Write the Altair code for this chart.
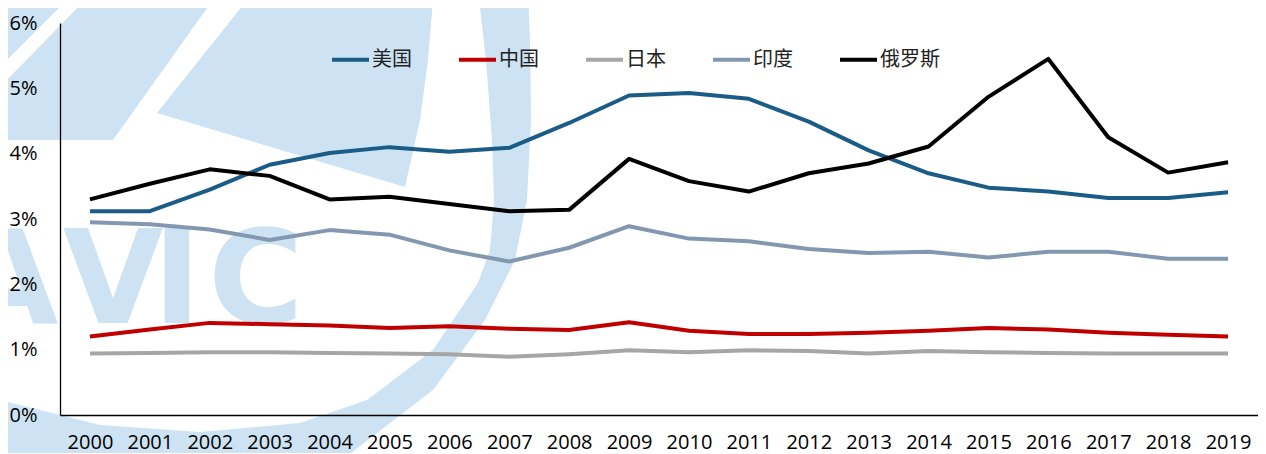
import altair as alt
import pandas as pd

# ---------------- data ----------------
years = [str(y) for y in range(2000, 2020)]
countries = ["美国", "中国", "日本", "印度", "俄罗斯"]
colors = ["#1B5C86", "#C00000", "#A6A6A6", "#8497B0", "#000000"]

usa = [3.12, 3.12, 3.45, 3.83, 4.01, 4.10, 4.03, 4.09, 4.47, 4.89,
       4.93, 4.84, 4.49, 4.05, 3.70, 3.48, 3.42, 3.32, 3.32, 3.41]
china = [1.20, 1.31, 1.41, 1.39, 1.37, 1.33, 1.36, 1.32, 1.30, 1.42,
         1.29, 1.24, 1.24, 1.26, 1.29, 1.33, 1.31, 1.26, 1.23, 1.20]
japan = [0.94, 0.95, 0.96, 0.96, 0.95, 0.94, 0.93, 0.89, 0.93, 0.99,
         0.96, 0.99, 0.98, 0.94, 0.98, 0.96, 0.95, 0.94, 0.94, 0.94]
india = [2.95, 2.92, 2.84, 2.68, 2.83, 2.76, 2.52, 2.35, 2.56, 2.89,
         2.70, 2.66, 2.54, 2.48, 2.50, 2.41, 2.50, 2.50, 2.39, 2.39]
russia = [3.30, 3.54, 3.76, 3.66, 3.30, 3.34, 3.23, 3.12, 3.14, 3.92,
          3.58, 3.42, 3.70, 3.85, 4.11, 4.87, 5.45, 4.25, 3.71, 3.87]
y_ticks = [0, 1, 2, 3, 4, 5, 6]

rows = []
for name, vals in zip(countries, [usa, china, japan, india, russia]):
    for yr, v in zip(years, vals):
        rows.append({"year": yr, "country": name, "value": v})
df = pd.DataFrame(rows)

# ---------------- decorative watermark (AVIC logo, approximated) ----------------
wm_color = "#CDE3F3"
wm_paths = [
    "M-10,-10 L77,-10 L-10,77 Z",
    "M95,-10 L220,-10 L113,140 L-10,140 L-10,97 Z",
    "M255,-10 L437,-10 L433,0 L428,60 L420,120 L405,187 L157,113 Z",
    "M478,-10 L486,60 L492,140 L494,200 L490,250 L478,283 L433,350 L367,400 "
    "L300,423 L200,432 L100,425 L0,400 L-10,396 L-10,470 L329,470 L433,390 "
    "L485,320 L515,260 L527,200 L531,120 L530,40 L528,-10 Z",
]
wm_df = pd.DataFrame({"path": wm_paths})
wm_letters = ["A", "V", "I", "C"]
wm_letter_x = [8, 113, 177, 256]  # page pixels, letter centres

W, H = 1198, 392
OX, OY = 60, 23  # plot origin in page coordinates

shapes = alt.Chart(wm_df).mark_point(
    filled=True, opacity=1, strokeWidth=0, color=wm_color
).encode(
    x=alt.value(-OX),
    y=alt.value(-OY),
    shape=alt.Shape("path:N", scale=None, legend=None),
    size=alt.value(4),
)

wm_text = alt.Chart(
    pd.DataFrame({"t": wm_letters, "px": [v - OX for v in wm_letter_x]})
).mark_text(
    font="DejaVu Sans", fontWeight="bold", fontSize=130, align="center",
    baseline="alphabetic", color=wm_color, y=323 - OY
).encode(
    text="t:N",
    x=alt.X("px:Q", scale=None),
)

axis_common = dict(
    title=None, ticks=False, tickSize=0, labelFontSize=20,
    labelFont="Open Sans", labelColor="#000000",
    domainColor="#000000", domainWidth=1.3, zindex=1,
)

lines = alt.Chart(df).mark_line(strokeWidth=4, strokeJoin="round").encode(
    x=alt.X(
        "year:O",
        sort=years,
        axis=alt.Axis(labelAngle=0, labelPadding=17, **axis_common),
    ),
    y=alt.Y(
        "value:Q",
        scale=alt.Scale(domain=[0, 6], nice=False),
        axis=alt.Axis(
            values=y_ticks, labelExpr="datum.value + '%'",
            grid=False, labelPadding=23, **axis_common,
        ),
    ),
    color=alt.Color(
        "country:N",
        sort=countries,
        scale=alt.Scale(domain=countries, range=colors),
        legend=alt.Legend(
            title=None, orient="none", direction="horizontal",
            legendX=270, legendY=16,
            symbolType="stroke", symbolStrokeWidth=4, symbolSize=1369,
            labelFontSize=20, labelFont="Noto Sans CJK SC", labelColor="#222222",
            labelOffset=1, columnPadding=39,
        ),
    ),
    order=alt.Order("year:O"),
)

chart = alt.layer(shapes, wm_text, lines).properties(
    width=W, height=H,
    autosize=alt.AutoSizeParams(type="none"),
    padding={"left": 52, "top": 15, "right": 0, "bottom": 38},
    background="#FFFFFF",
).configure_view(stroke=None)

chart.save("out.html", embed_options={"renderer": "svg", "actions": False})
